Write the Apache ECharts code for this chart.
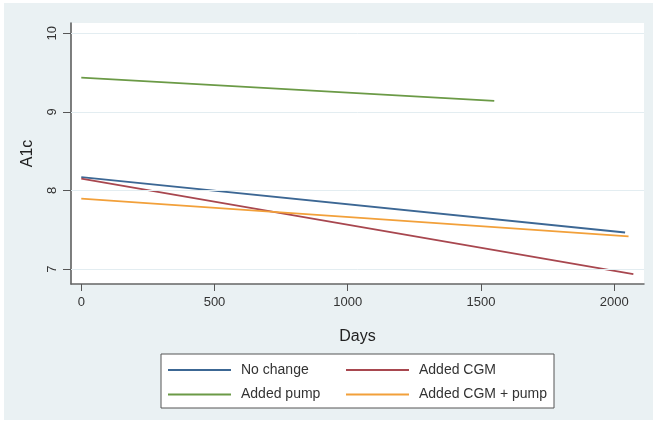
<!DOCTYPE html>
<html>
<head>
<meta charset="utf-8">
<script src="https://cdn.jsdelivr.net/npm/echarts@6/dist/echarts.min.js"></script>
<style>
html,body{margin:0;padding:0;background:#fff;}
#chart{width:657px;height:424px;}
</style>
</head>
<body>
<div id="chart"></div>
<script>
// Data
const seriesNames = ['No change', 'Added CGM', 'Added pump', 'Added CGM + pump'];
const noChange = [[0, 8.17], [2041, 7.465]];
const addedCGM = [[0, 8.15], [2072, 6.935]];
const addedPump = [[0, 9.435], [1550, 9.14]];
const addedCGMPump = [[0, 7.895], [2054, 7.415]];
const xTicks = [0, 500, 1000, 1500, 2000];
const yTicks = [7, 8, 9, 10];

const colors = ['#3c6794', '#a8474f', '#6b9a46', '#f2a03a'];
const chart = echarts.init(document.getElementById('chart'), null, {renderer: 'canvas'});
const font = 'Liberation Sans, Arial, sans-serif';

function lineSeries(name, data, color) {
  return {
    name: name, type: 'line', data: data, symbol: 'none', showSymbol: false,
    lineStyle: {color: color, width: 1.8}, itemStyle: {color: color},
    silent: true, animation: false, z: 3
  };
}

const legendBase = {
  orient: 'vertical', top: 363, padding: 0,
  itemWidth: 63, itemHeight: 14, itemGap: 10.4,
  itemStyle: {opacity: 0},
  textStyle: {fontFamily: font, fontSize: 14, color: '#333', padding: [0, 0, 0, 5]},
  selectedMode: false
};

const option = {
  animation: false,
  backgroundColor: '#fff',
  graphic: [
    {type: 'rect', shape: {x: 4, y: 3, width: 649, height: 417}, style: {fill: '#eaf1f3'}, z: -10, silent: true},
    {type: 'rect', shape: {x: 161, y: 354, width: 393, height: 54}, style: {fill: '#fff', stroke: '#555', lineWidth: 1}, z: -5, silent: true}
  ],
  grid: {left: 71, top: 23, width: 573, height: 261, show: true, backgroundColor: '#fff', borderWidth: 0},
  xAxis: {
    type: 'value', min: -38.6, max: 2112,
    name: 'Days', nameLocation: 'middle', nameGap: 45,
    nameTextStyle: {fontFamily: font, fontSize: 16, color: '#222'},
    axisLine: {show: true, onZero: false, lineStyle: {color: '#666', width: 1.5}},
    axisTick: {show: true, customValues: xTicks, length: 7, lineStyle: {color: '#555', width: 1}},
    axisLabel: {customValues: xTicks, formatter: v => String(v), fontFamily: font, fontSize: 13, color: '#333', margin: 12},
    splitLine: {show: false}
  },
  yAxis: {
    type: 'value', min: 6.81, max: 10.13,
    name: 'A1c', nameLocation: 'middle', nameGap: 35, nameRotate: 90,
    nameTextStyle: {fontFamily: font, fontSize: 16, color: '#222'},
    axisLine: {show: true, onZero: false, lineStyle: {color: '#555', width: 1.5}},
    axisTick: {show: true, customValues: yTicks, length: 8, lineStyle: {color: '#555', width: 1}},
    axisLabel: {customValues: yTicks, formatter: v => String(v), rotate: 90, fontFamily: font, fontSize: 13, color: '#333', margin: 12},
    splitLine: {show: false}
  },
  legend: [
    Object.assign({}, legendBase, {data: [seriesNames[0], seriesNames[2]], left: 167}),
    Object.assign({}, legendBase, {data: [seriesNames[1], seriesNames[3]], left: 345})
  ],
  series: [
    {
      type: 'line', data: [], silent: true, z: 1,
      markLine: {
        silent: true, symbol: 'none', label: {show: false},
        lineStyle: {color: '#e3edf1', width: 1, type: 'solid'},
        data: yTicks.map(v => ({yAxis: v}))
      }
    },
    lineSeries(seriesNames[0], noChange, colors[0]),
    lineSeries(seriesNames[1], addedCGM, colors[1]),
    lineSeries(seriesNames[2], addedPump, colors[2]),
    lineSeries(seriesNames[3], addedCGMPump, colors[3])
  ]
};
chart.setOption(option);
</script>
</body>
</html>
